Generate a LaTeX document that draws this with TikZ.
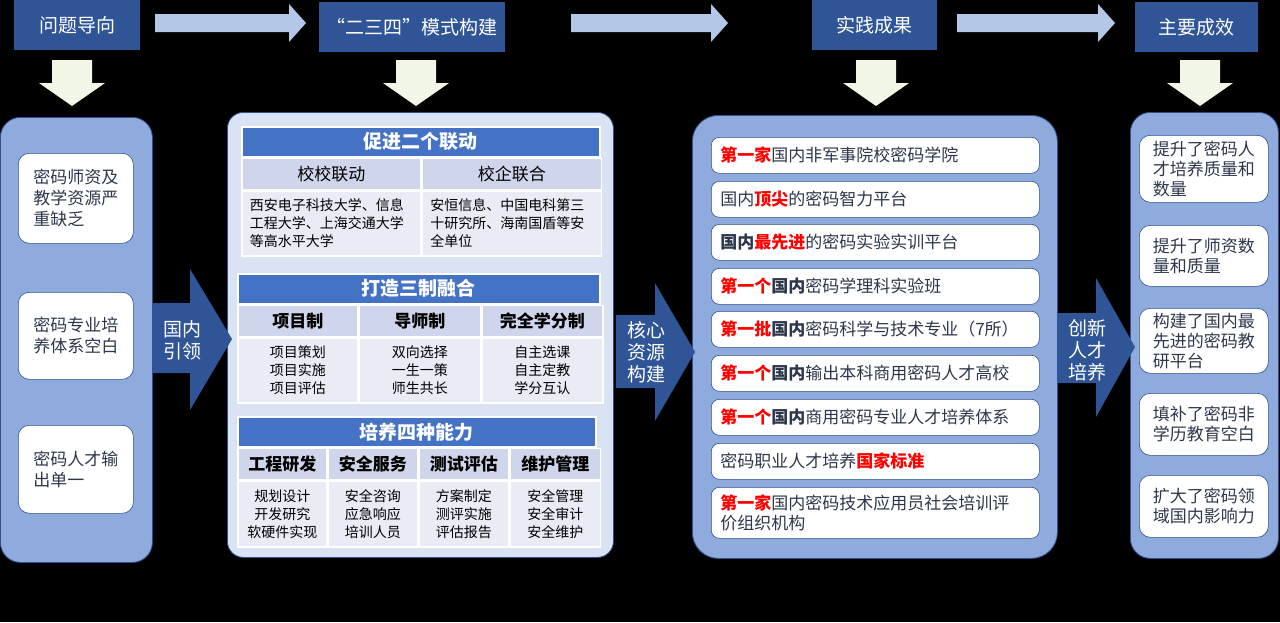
\documentclass[tikz,border=0pt]{standalone}
\usepackage{fontspec}
\setmainfont{Noto Sans CJK SC}
\definecolor{hdrblue}{RGB}{47,85,151}
\definecolor{arrowlight}{RGB}{180,199,231}
\definecolor{downfill}{RGB}{242,246,230}
\definecolor{panelblue}{RGB}{143,170,220}
\definecolor{panellight}{RGB}{218,227,243}
\definecolor{titleblue}{RGB}{68,114,196}
\definecolor{subgray}{RGB}{207,213,234}
\definecolor{cellgray}{RGB}{233,235,245}
\definecolor{boxtext}{RGB}{45,55,75}
\definecolor{edgeblue}{RGB}{47,82,143}
\newcommand{\redbf}[1]{{\bfseries\color{red}#1}}

\begin{document}
\begin{tikzpicture}[x=1pt,y=-1pt,
  stage/.style={fill=hdrblue, text=white, anchor=north west, inner sep=0pt, minimum height=50pt, font=\fontsize{19pt}{23pt}\selectfont},
  panel/.style={draw=edgeblue, line width=.8pt, fill=panelblue, anchor=north west, inner sep=0pt, rounded corners=20pt},
  card/.style={draw=edgeblue, line width=.6pt, fill=white, anchor=north west, inner sep=0pt, rounded corners=11pt, text=boxtext, align=left, font=\fontsize{17pt}{21pt}\selectfont},
  result/.style={card, rounded corners=8pt, text width=310pt, inner xsep=9pt, minimum height=36pt, font=\fontsize{17pt}{20pt}\selectfont},
  arrowtext/.style={text=white, align=center, inner sep=0pt, font=\fontsize{19pt}{22pt}\selectfont},
  cell/.style={draw=white, line width=1.5pt, anchor=north west, inner sep=0pt, align=center},
  ttl/.style={cell, fill=titleblue, text=white, minimum height=30pt, font=\bfseries\fontsize{19pt}{22pt}\selectfont},
  sub/.style={cell, fill=subgray, minimum height=31pt, font=\bfseries\fontsize{17pt}{20pt}\selectfont},
  body/.style={cell, fill=cellgray, minimum height=65pt, font=\fontsize{14pt}{18pt}\selectfont}]
  \fill[black] (0,0) rectangle (1280,622);
  \useasboundingbox (0,0) rectangle (1280,622);

  % header row
  \node[stage, minimum width=126pt] (problem) at (14,0) {问题导向};
  \node[stage, minimum width=186pt] (model) at (319,2) {“二三四”模式构建};
  \node[stage, minimum width=125pt] (practice) at (812,0) {实践成果};
  \node[stage, minimum width=123pt] (effect) at (1135,2) {主要成效};

  \foreach \a/\b in {155/306, 571/728, 957/1115} {
    \fill[arrowlight] (\a,14) -- (\b-17,14) -- (\b-17,4) -- (\b,23) -- (\b-17,42) -- (\b-17,32) -- (\a,32) -- cycle;
  }
  \foreach \c in {72,416,876,1200} {
    \fill[downfill] (\c-20,60) -- (\c+20,60) -- (\c+20,83) -- (\c+33,83) -- (\c,106) -- (\c-33,83) -- (\c-20,83) -- cycle;
  }

  % panels
  \node[panel, minimum width=152pt, minimum height=445pt] (probs) at (0,117) {};
  \node[panel, fill=panellight, minimum width=386pt, minimum height=445pt, rounded corners=16pt] (modes) at (227,112) {};
  \node[panel, minimum width=365pt, minimum height=443pt, rounded corners=26pt] (results) at (692,115) {};
  \node[panel, minimum width=148pt, minimum height=446pt] (effects) at (1130,112) {};

  \node[card, minimum width=115pt, minimum height=90pt] (p1) at (18,153) {密码师资及\\教学资源严\\重缺乏};
  \node[card, minimum width=115pt, minimum height=87pt] (p2) at (18,292) {密码专业培\\养体系空白};
  \node[card, minimum width=115pt, minimum height=88pt] (p3) at (18,425) {密码人才输\\出单一};

  % tables
  \node[ttl, minimum width=358pt] (t1) at (241,126) {促进二个联动};
  \node[sub, minimum width=179pt, font=\fontsize{17pt}{20pt}\selectfont] (t1a) at (t1.south west) {校校联动};
  \node[sub, minimum width=179pt, font=\fontsize{17pt}{20pt}\selectfont] (t1b) at (t1a.north east) {校企联合};
  \node[body, minimum width=179pt, text width=163pt, align=left] (t1c) at (t1a.south west) {西安电子科技大学、信息\\工程大学、上海交通大学\\等高水平大学};
  \node[body, minimum width=179pt, text width=163pt, align=left] (t1d) at (t1b.south west) {安恒信息、中国电科第三\\十研究所、海南国盾等安\\全单位};

  \node[ttl, minimum width=362pt] (t2) at (237,273) {打造三制融合};
  \node[sub, minimum width=120pt] (t2a) at (t2.south west) {项目制};
  \node[sub, minimum width=121pt] (t2b) at (t2a.north east) {导师制};
  \node[sub, minimum width=121pt] (t2c) at (t2b.north east) {完全学分制};
  \node[body, minimum width=120pt] (t2d) at (t2a.south west) {项目策划\\项目实施\\项目评估};
  \node[body, minimum width=121pt] (t2e) at (t2b.south west) {双向选择\\一生一策\\师生共长};
  \node[body, minimum width=121pt] (t2f) at (t2c.south west) {自主选课\\自主定教\\学分互认};

  \node[ttl, minimum width=358pt] (t3) at (237,416) {培养四种能力};
  \node[sub, minimum width=89pt] (t3a) at (t3.south west) {工程研发};
  \node[sub, minimum width=89pt] (t3b) at (t3a.north east) {安全服务};
  \node[sub, minimum width=90pt] (t3c) at (t3b.north east) {测试评估};
  \node[sub, minimum width=90pt] (t3d) at (t3c.north east) {维护管理};
  \node[body, minimum width=89pt, minimum height=66pt] (t3e) at (t3a.south west) {规划设计\\开发研究\\软硬件实现};
  \node[body, minimum width=89pt, minimum height=66pt] (t3f) at (t3b.south west) {安全咨询\\应急响应\\培训人员};
  \node[body, minimum width=90pt, minimum height=66pt] (t3g) at (t3c.south west) {方案制定\\测评实施\\评估报告};
  \node[body, minimum width=90pt, minimum height=66pt] (t3h) at (t3d.south west) {安全管理\\安全审计\\安全维护};

  % results
  \node[result] (r1) at (711,137) {\redbf{第一家}国内非军事院校密码学院};
  \node[result] (r2) at (711,181) {国内\redbf{顶尖}的密码智力平台};
  \node[result] (r3) at (711,224) {{\bfseries 国内}\redbf{最先进}的密码实验实训平台};
  \node[result] (r4) at (711,268) {\redbf{第一个}{\bfseries 国内}密码学理科实验班};
  \node[result] (r5) at (711,311) {\redbf{第一批}{\bfseries 国内}密码科学与技术专业（7所）};
  \node[result] (r6) at (711,355) {\redbf{第一个}{\bfseries 国内}输出本科商用密码人才高校};
  \node[result] (r7) at (711,399) {\redbf{第一个}{\bfseries 国内}商用密码专业人才培养体系};
  \node[result] (r8) at (711,443) {密码职业人才培养\redbf{国家标准}};
  \node[result, minimum height=51pt] (r9) at (711,487) {\redbf{第一家}国内密码技术应用员社会培训评\\价组织机构};

  % effects
  \node[card, minimum width=129pt, minimum height=67pt, font=\fontsize{17pt}{20pt}\selectfont] (e1) at (1139,135) {提升了密码人\\才培养质量和\\数量};
  \node[card, minimum width=129pt, minimum height=61pt, font=\fontsize{17pt}{20pt}\selectfont] (e2) at (1139,225) {提升了师资数\\量和质量};
  \node[card, minimum width=129pt, minimum height=65pt, font=\fontsize{17pt}{20pt}\selectfont] (e3) at (1139,308) {构建了国内最\\先进的密码教\\研平台};
  \node[card, minimum width=129pt, minimum height=62pt, font=\fontsize{17pt}{20pt}\selectfont] (e4) at (1139,393) {填补了密码非\\学历教育空白};
  \node[card, minimum width=129pt, minimum height=62pt, font=\fontsize{17pt}{20pt}\selectfont] (e5) at (1139,475) {扩大了密码领\\域国内影响力};

  % block arrows
  \fill[hdrblue] (152,303) -- (190,303) -- (190,269) -- (232,339) -- (190,410) -- (190,373) -- (152,373) -- cycle;
  \node[arrowtext] (lead) at (182,340) {国内\\引领};
  \fill[hdrblue] (616,315) -- (655,315) -- (655,283) -- (695,352) -- (655,421) -- (655,388) -- (616,388) -- cycle;
  \node[arrowtext] (core) at (646,352) {核心\\资源\\构建};
  \fill[hdrblue] (1057,313) -- (1096,313) -- (1096,278) -- (1135,347) -- (1096,417) -- (1096,383) -- (1057,383) -- cycle;
  \node[arrowtext] (talent) at (1087,350) {创新\\人才\\培养};
\end{tikzpicture}
\end{document}
